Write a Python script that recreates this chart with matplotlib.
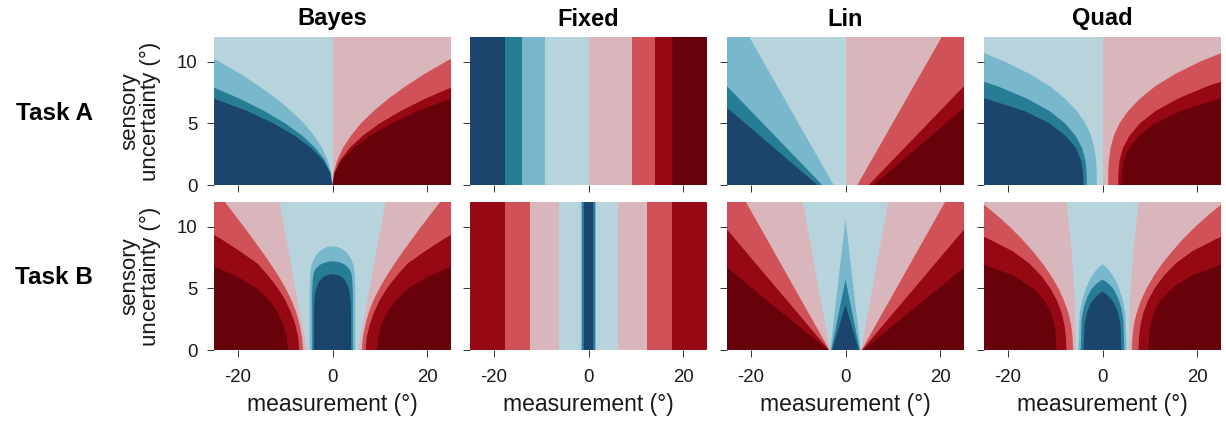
import matplotlib
matplotlib.use('Agg')
import matplotlib.pyplot as plt

plt.rcParams['font.family'] = ['Liberation Sans', 'DejaVu Sans']
plt.rcParams['axes.unicode_minus'] = False

MODELS = ['Bayes', 'Fixed', 'Lin', 'Quad']
TASKS = ['Task A', 'Task B']
X_TICKS = [-20, 0, 20]
Y_TICKS = [0, 5, 10]
X_LABEL = 'measurement (°)'
Y_LABEL = 'sensory\nuncertainty (°)'

DARK_BLUE = '#1b456c'
TEAL = '#287d96'
MID_BLUE = '#78b7cc'
LIGHT_BLUE = '#b7d3dc'
PINK = '#d8b6bb'
MID_RED = '#d05258'
RED = '#960814'
DARK_RED = '#68020a'

# task A regions left to right, task B regions from the outside in
COLORS_A = [DARK_BLUE, TEAL, MID_BLUE, LIGHT_BLUE, PINK, MID_RED, RED, DARK_RED]
COLORS_B = [DARK_RED, RED, MID_RED, PINK, LIGHT_BLUE, MID_BLUE, TEAL, DARK_BLUE]

SIG = [0, 1, 2, 3, 4, 5, 6, 7, 8, 9, 10, 11, 12]
ENDS = [0, 12]

# left-hand boundaries as (sensory uncertainty, measurement), outermost first.
# right-hand side is the mirror image
BAYES_A = [
    (SIG, [0, -0.5, -2.0, -4.5, -8.0, -12.5, -18.0, -25.0, -32.5, -41, -50, -60, -71]),
    (SIG, [0, -0.4, -1.6, -3.6, -6.4, -10.0, -14.4, -19.6, -25.6, -32, -40, -48, -57]),
    (SIG, [0, -0.25, -1.0, -2.2, -3.9, -6.0, -8.7, -11.8, -15.4, -19.4, -23.9, -28.9, -34.4]),
]
FIXED_A = [
    (ENDS, [-17.6, -17.6]),
    (ENDS, [-14.0, -14.0]),
    (ENDS, [-9.1, -9.1]),
]
LIN_A = [
    (ENDS, [-5.9, -42.5]),
    (ENDS, [-4.9, -35.0]),
    (ENDS, [-2.5, -20.3]),
]
QUAD_A = [
    (SIG, [-4.0, -4.1, -4.5, -5.6, -7.8, -11.2, -16.5, -24.6, -34.7, -48, -64, -84, -108]),
    (SIG, [-3.3, -3.35, -3.6, -4.3, -5.7, -7.9, -11.2, -15.9, -22.1, -30, -40, -52, -67]),
    (SIG, [-1.2, -1.2, -1.35, -1.7, -2.4, -3.6, -5.4, -7.9, -11.1, -15.3, -20.6, -27.0, -34.7]),
]

BAYES_B = [
    (SIG, [-9.4, -9.6, -10.3, -11.5, -13.3, -16.0, -20.3, -26.5, -35, -44, -54, -65, -77]),
    (SIG, [-7.0, -7.2, -7.8, -8.7, -9.9, -11.5, -13.5, -15.8, -19.5, -23.5, -28, -33, -38]),
    (SIG, [-6.2, -6.4, -6.9, -7.6, -8.6, -9.9, -11.4, -13.1, -14.9, -16.8, -18.7, -20.7, -22.7]),
    (ENDS, [-5.4, -11.2]),
    ([0, 5.0, 6.0, 6.8, 7.4, 7.9, 8.2, 8.35, 8.4, 12],
     [-4.8, -4.8, -4.7, -4.5, -3.9, -3.0, -2.0, -1.1, 0, 0]),
    ([0, 4.5, 5.5, 6.2, 6.6, 6.9, 7.05, 7.15, 7.2, 12],
     [-4.3, -4.3, -4.2, -4.0, -3.5, -2.7, -1.9, -1.0, 0, 0]),
    ([0, 3.5, 4.5, 5.0, 5.5, 5.8, 6.0, 6.1, 6.15, 12],
     [-3.9, -3.9, -3.7, -3.4, -2.9, -2.3, -1.6, -0.9, 0, 0]),
]
FIXED_B = [
    (ENDS, [-30, -30]),
    (ENDS, [-17.6, -17.6]),
    (ENDS, [-12.4, -12.4]),
    (ENDS, [-6.2, -6.2]),
    (ENDS, [-1.6, -1.6]),
    (ENDS, [-1.3, -1.3]),
    (ENDS, [-0.9, -0.9]),
]
LIN_B = [
    (ENDS, [-3.7, -42.0]),
    (ENDS, [-3.5, -29.9]),
    (ENDS, [-3.4, -21.0]),
    (ENDS, [-3.3, -9.0]),
    ([0, 10.6, 12], [-3.2, 0, 0]),
    ([0, 5.7, 12], [-3.0, 0, 0]),
    ([0, 3.66, 12], [-2.8, 0, 0]),
]
QUAD_B = [
    (SIG, [-9.7, -9.8, -10.1, -10.8, -12.2, -14.6, -18.6, -25.5, -34, -44, -55, -67, -80]),
    (SIG, [-7.6, -7.7, -8.0, -8.6, -9.6, -11.0, -12.9, -15.4, -18.9, -24.0, -30, -37, -45]),
    (SIG, [-6.2, -6.3, -6.6, -7.2, -8.1, -9.3, -10.8, -12.6, -14.7, -17.0, -19.6, -22.5, -25.7]),
    ([0, 4, 8, 12], [-5.6, -5.8, -6.5, -7.6]),
    ([0, 3, 4, 5, 5.7, 6.3, 6.7, 6.96, 12], [-5.1, -4.8, -4.3, -3.5, -2.7, -1.7, -0.8, 0, 0]),
    ([0, 2.5, 3.5, 4.3, 4.9, 5.3, 5.55, 5.7, 12], [-4.6, -4.4, -3.9, -3.2, -2.4, -1.5, -0.7, 0, 0]),
    ([0, 2, 3, 3.6, 4.0, 4.3, 4.55, 4.74, 12], [-4.0, -3.8, -3.3, -2.7, -2.1, -1.4, -0.7, 0, 0]),
]

PANELS = [[BAYES_A, FIXED_A, LIN_A, QUAD_A], [BAYES_B, FIXED_B, LIN_B, QUAD_B]]

EDGE_L = (ENDS, [-60, -60])
EDGE_R = (ENDS, [60, 60])


def flip(bound):
    return bound[0], [-v for v in bound[1]]


def polygon(left, right):
    (sl, xl), (sr, xr) = left, right
    return list(xl) + list(xr)[::-1], list(sl) + list(sr)[::-1]


def draw_task_a(ax, bounds):
    full = bounds + [(ENDS, [0, 0])] + [flip(b) for b in reversed(bounds)]
    ax.fill(*polygon(EDGE_L, EDGE_R), color=COLORS_A[0], lw=0)
    for b, c in zip(full, COLORS_A[1:]):
        ax.fill(*polygon(b, EDGE_R), color=c, lw=0)


def draw_task_b(ax, bounds):
    ax.fill(*polygon(EDGE_L, EDGE_R), color=COLORS_B[0], lw=0)
    for b, c in zip(bounds, COLORS_B[1:]):
        ax.fill(*polygon(b, flip(b)), color=c, lw=0)


W, H = 1226, 423
LEFTS = [214, 470, 727, 984]
AX_W = 237
ROWS = [(37, 185), (202, 350)]

fig = plt.figure(figsize=(W / 100, H / 100), dpi=100)

for r, (top, bottom) in enumerate(ROWS):
    for c, left in enumerate(LEFTS):
        ax = fig.add_axes([left / W, 1 - bottom / H, AX_W / W, (bottom - top) / H])
        if r == 0:
            draw_task_a(ax, PANELS[r][c])
        else:
            draw_task_b(ax, PANELS[r][c])
        ax.set_xlim(-25, 25)
        ax.set_ylim(0, 12)
        ax.set_xticks(X_TICKS)
        ax.set_yticks(Y_TICKS)
        for s in ax.spines.values():
            s.set_visible(False)
        ax.tick_params(axis='both', direction='out', length=5, width=0.7,
                       color='#333333', labelsize=13.4, labelcolor='#1a1a1a')
        ax.tick_params(axis='x', pad=9)
        ax.tick_params(axis='y', pad=7)
        if c > 0:
            ax.set_yticklabels([])
        if r == 0:
            ax.set_xticklabels([])
            fig.text((left + AX_W / 2) / W, 1 - 19 / H, MODELS[c], ha='center', va='center',
                     fontsize=17, fontweight='bold')
        else:
            fig.text((left + AX_W / 2) / W, 1 - 404 / H, X_LABEL, ha='center', va='center',
                     fontsize=16.5, color='#1a1a1a')
    mid = (top + bottom) / 2
    fig.text(54 / W, 1 - (mid + 2) / H, TASKS[r], ha='center', va='center',
             fontsize=17.5, fontweight='bold')
    fig.text(140 / W, 1 - mid / H, Y_LABEL, ha='center', va='center', rotation=90,
             fontsize=16, linespacing=1.0, color='#1a1a1a')

fig.savefig('out.png', dpi=100)
